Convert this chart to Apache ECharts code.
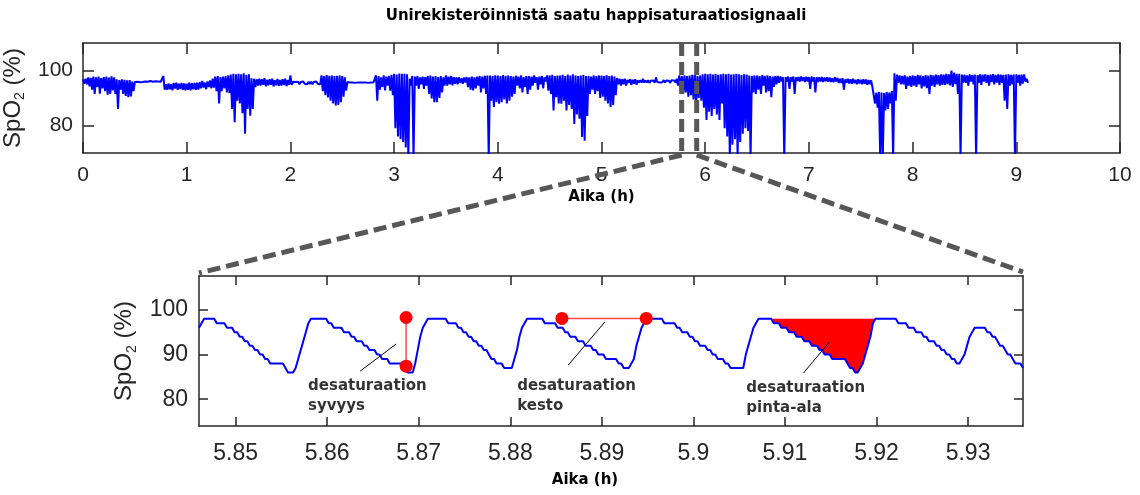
<!DOCTYPE html>
<html>
<head>
<meta charset="utf-8">
<script src="https://cdn.jsdelivr.net/npm/echarts@6/dist/echarts.min.js"></script>
<style>
  html, body { margin: 0; padding: 0; background: #ffffff; }
  #chart { width: 1140px; height: 495px; }
</style>
</head>
<body>
<div id="chart"></div>
<script>
// ---- Whole-night SpO2 (%): max / min envelope per 0.025 h bin, first bin at 0 h ----
const nightBinHours = 0.025;
const nightMax = [
  96.8,97.0,97.5,97.3, 97.8,97.5,97.8,97.2, 97.6,97.8,97.4,97.9, 97.5,96.8,96.5,96.8, 96.6,96.4,96.5,96.0,
  95.8,95.9,95.7,95.8, 96.0,95.9,96.2,95.9, 96.1,96.0,95.9,98.0, 95.0,95.3,95.0,95.5, 95.6,95.2,95.5,95.3,
  95.2,95.6,95.4,95.5, 95.6,95.8,96.2,95.6, 96.0,96.4,97.0,97.8, 98.0,97.6,97.8,98.0, 98.2,98.5,98.8,98.6,
  98.8,98.6,99.0,98.4, 98.6,97.2,97.0,96.8, 97.0,96.8,97.2,96.6, 96.8,97.0,96.5,96.9, 96.6,96.8,97.0,96.5,
  98.2,95.9,95.8,95.9, 95.8,96.0,95.7,95.9, 95.9,95.8,96.0,95.9, 98.2,98.0,98.3,98.1, 98.2,98.0,98.1,98.2,
  98.0,97.5,95.8,95.6, 95.6,95.5,95.6,95.6, 95.6,95.6,95.5,95.6, 95.6,98.2,98.0,97.5, 98.2,97.8,98.0,98.4,
  98.8,98.5,98.9,98.8, 98.8,98.6,97.0,98.0, 97.8,98.0,97.5,97.8, 97.6,98.0,98.2,97.8, 98.0,97.6,98.0,97.5,
  98.2,97.8,98.0,97.6, 97.5,97.6,97.2,97.5, 97.6,97.5,97.8,97.5, 97.8,98.0,97.8,98.1, 98.2,98.2,98.0,98.3,
  98.2,98.0,98.3,98.1, 98.2,98.0,97.8,98.1, 97.8,98.2,97.6,98.0, 98.0,97.8,98.2,97.6, 97.8,98.0,97.5,98.2,
  98.2,98.4,98.0,98.2, 98.2,98.4,98.0,98.5, 98.2,98.6,98.2,98.0, 98.2,98.4,98.0,98.0, 97.8,98.2,98.0,98.2,
  98.2,98.0,98.3,98.0, 98.2,97.8,97.2,97.0, 96.8,97.0,96.6,96.8, 96.6,96.8,96.4,96.5, 97.0,96.4,96.5,96.3,
  96.4,97.5,96.5,96.3, 96.5,96.4,96.3,96.5, 96.4,97.0,98.2,98.0, 98.2,98.0,98.2,98.4, 98.4,98.0,98.2,98.6,
  98.8,98.6,98.8,98.5, 98.8,98.4,98.6,98.8, 98.6,98.8,98.5,98.6, 98.8,98.6,98.4,98.6, 98.5,98.2,98.0,98.2,
  98.2,98.0,98.3,98.0, 98.2,98.0,97.8,98.0, 98.0,97.8,97.5,97.6, 97.8,97.6,97.8,97.5, 97.6,97.8,97.5,97.7,
  97.6,97.8,97.5,97.6, 97.5,97.6,97.4,97.5, 97.4,97.2,97.5,97.3, 97.0,97.2,96.8,97.0, 96.8,97.0,96.6,96.8,
  96.6,96.8,96.7,96.5, 96.4,93.5,92.0,92.2, 92.0,91.8,92.2,92.0, 92.5,99.0,98.5,98.2, 98.0,98.2,97.8,98.0,
  98.2,98.0,98.4,98.2, 98.0,98.3,98.1,98.4, 98.2,98.5,98.3,98.6, 98.5,98.8,98.6,100.0, 99.2,98.8,98.8,98.5,
  98.5,98.2,98.6,98.4, 98.5,98.3,98.6,98.5, 98.6,98.4,98.5,98.7, 98.4,98.6,98.5,98.4, 98.5,98.6,98.4,98.5,
  98.6,98.4,98.5,98.6, 97.0
];
const nightMin = [
  95.2,95.0,94.2,93.0, 91.5,94.0,91.6,93.5, 92.5,91.2,91.5,92.8, 91.5,86.0,93.0,91.5, 90.8,90.3,90.6,92.5,
  95.3,95.2,95.4,95.3, 95.4,95.3,95.5,95.5, 95.4,95.4,95.4,93.0, 93.0,93.2,92.8,93.4, 93.0,93.3,93.0,92.8,
  93.0,92.8,93.2,93.0, 93.1,93.5,93.8,93.2, 94.0,93.5,93.8,92.5, 88.0,92.5,93.5,92.0, 91.8,86.0,81.2,89.0,
  88.0,84.5,77.0,86.0, 83.6,86.0,94.0,94.5, 94.5,94.8,94.3,94.6, 94.8,94.2,94.6,94.4, 94.5,94.7,94.3,94.8,
  94.8,95.2,95.1,95.0, 95.1,95.2,95.0,95.1, 95.0,95.1,95.2,95.0, 92.5,91.0,90.2,89.0, 88.0,87.3,87.5,88.5,
  90.5,92.7,95.2,95.3, 95.2,95.3,95.3,95.2, 95.2,95.3,95.3,95.2, 95.1,89.0,93.0,94.0, 92.8,94.5,92.7,91.0,
  79.0,76.0,75.0,74.0, 72.0,68.0,94.5,68.0, 94.5,93.3,95.0,93.3, 94.5,91.5,89.8,88.5, 88.5,90.0,92.0,94.5,
  94.5,95.0,94.6,95.2, 95.0,95.5,95.2,95.6, 94.0,93.0,92.8,93.5, 94.5,92.0,93.5,91.5, 68.0,89.0,86.7,88.5,
  87.9,88.5,89.5,88.0, 89.0,90.5,91.5,94.5, 93.5,92.0,94.0,91.5, 93.0,94.5,95.5,93.0, 95.0,93.5,96.0,92.7,
  91.5,85.5,90.3,88.0, 87.9,89.0,85.5,87.5, 86.0,80.6,84.0,82.5, 75.8,74.5,83.5,91.5, 93.0,91.5,92.5,90.0,
  90.5,89.0,88.0,86.7, 87.5,91.0,95.0,94.5, 95.0,94.5,95.5,94.8, 95.2,94.8,95.6,95.6, 95.6,95.6,95.5,95.7,
  95.5,95.8,95.6,95.7, 95.6,95.7,95.5,95.8, 95.6,94.5,92.7,91.5, 92.0,90.5,91.0,89.5, 88.0,90.0,89.0,86.5,
  82.0,85.0,83.5,86.0, 84.0,82.0,88.0,79.0, 76.0,68.0,73.0,75.0, 68.0,74.0,77.0,79.0, 78.0,68.0,92.0,91.5,
  93.0,91.5,94.5,92.0, 92.5,90.3,94.0,95.0, 95.5,96.0,68.0,96.0, 93.3,96.0,91.5,96.2, 96.0,96.2,95.8,96.0,
  93.3,96.0,92.0,95.8, 96.0,95.8,96.1,95.9, 95.8,95.7,96.0,95.5, 95.5,93.0,95.6,95.3, 95.2,95.4,95.0,95.3,
  95.0,95.2,94.8,95.0, 94.0,88.0,86.5,68.0, 68.0,85.5,86.0,88.0, 68.0,89.0,95.5,95.0, 95.0,93.3,94.5,94.0,
  94.5,94.0,95.0,93.5, 94.2,93.6,91.5,94.5, 94.0,95.0,94.5,94.8, 94.8,95.0,94.6,94.0, 95.0,91.5,68.0,95.5,
  95.5,94.5,96.0,95.0, 68.0,95.5,94.8,96.0, 95.5,94.5,95.8,95.0, 95.6,94.8,95.5,89.0, 86.0,94.5,95.0,68.0,
  95.5,94.5,95.2,96.0, 95.5
];

// ---- Close-up: SpO2 (%) sampled at 1 Hz, first sample at 5.846 h ----
const detailStart = 5.846;
const detailSampleHours = 1 / 3600;
const detailSpo2 = [
  96,97,98,98,98,98,98,97,97,97,97,96,96,96,95,95,94,94,93,93,92,92,91,91,90,90,89,89,88,88,88,88,88,88,87,86,86,86,87,89,91,93,95,97,
  98,98,98,98,98,98,98,97,97,96,96,96,96,95,95,95,94,94,93,93,93,92,92,91,91,91,90,90,89,89,89,88,88,88,88,88,88,87,86,86,86,88,91,94,96,97,98,98,98,98,98,98,98,98,
  97,97,97,97,96,96,95,95,94,94,93,93,92,92,91,91,90,89,89,88,88,88,87,87,87,87,89,91,94,96,97,98,98,98,98,98,98,98,
  97,97,97,97,97,96,96,96,95,95,94,94,94,93,93,93,92,92,92,91,91,90,90,90,89,89,89,89,89,88,88,87,87,87,88,89,92,94,96,97,98,98,98,98,98,98,98,
  97,97,97,97,97,96,96,95,95,95,94,94,93,93,92,92,92,91,91,90,90,89,89,89,88,88,87,87,87,87,87,87,90,92,94,96,97,98,98,98,98,98,98,
  97,97,97,96,96,96,95,95,95,94,94,94,93,93,93,92,92,92,91,91,90,90,90,89,89,89,89,89,89,88,87,87,86,86,87,88,90,92,94,97,98,98,98,98,98,98,98,98,98,
  97,97,97,97,96,96,96,95,95,95,94,94,93,93,93,92,92,91,91,90,90,89,89,88,88,89,90,92,94,95,96,96,96,96,96,95,95,94,94,93,92,92,91,90,90,89,88,88,88,87
];

// ---- Axis ticks ----
const nightHourTicks = [0, 1, 2, 3, 4, 5, 6, 7, 8, 9, 10];
const nightSpo2Ticks = [80, 100];
const detailHourTicks = [5.85, 5.86, 5.87, 5.88, 5.89, 5.90, 5.91, 5.92, 5.93];
const detailSpo2Ticks = [80, 90, 100];

// ---- Desaturation measures drawn on the close-up ----
const depthMarker = [[5.86862, 98.3], [5.86862, 87.4]];      // syvyys: peak to nadir
const durationMarker = [[5.88564, 98.1], [5.89485, 98.1]];   // kesto: start to end
const areaSpan = [5.90862, 5.91988];                          // pinta-ala: time span
const areaLevel = 98;                                         // pinta-ala: baseline level
const noteTexts = ['desaturaation\nsyvyys', 'desaturaation\nkesto', 'desaturaation\npinta-ala'];
const noteAnchors = [[5.85791, 85.17], [5.88075, 85.17], [5.90578, 84.72]];
const noteLeaders = [
  [[5.86360, 86.29], [5.86753, 92.36]],
  [[5.88633, 87.64], [5.89033, 97.30]],
  [[5.91201, 85.84], [5.91485, 92.81]]
];

// Window of the night plot shown in the close-up
const zoomWindow = [5.773, 5.918];

// ---- Build series data ----
const nightLine = [];
nightMax.forEach((hi, k) => {
  const t0 = k * nightBinHours;
  nightLine.push([t0, hi], [t0 + nightBinHours / 2, nightMin[k]]);
});
const detailLine = detailSpo2.map((v, i) => [detailStart + i * detailSampleHours, v]);
const areaLine = [[areaSpan[0], areaLevel]]
  .concat(detailLine.filter(p => p[0] > areaSpan[0] && p[0] < areaSpan[1]))
  .concat([[areaSpan[1], areaLevel]]);

const ink = '#262626';
const tickFont = 'Liberation Sans';
const boldFont = 'DejaVu Sans';

function frameAxis(extra) {
  return Object.assign({
    type: 'value',
    splitLine: { show: false },
    axisLine: { show: true, onZero: false, lineStyle: { color: ink, width: 1.5 } },
  }, extra);
}

const yName = {
  color: ink,
  fontFamily: tickFont,
  rich: {
    a: { fontSize: 24, fontFamily: tickFont, color: ink, lineHeight: 26, verticalAlign: 'top' },
    b: { fontSize: 14, fontFamily: tickFont, color: ink, lineHeight: 14, padding: [20, 0, 0, 0], verticalAlign: 'bottom' }
  }
};
const xName = { fontFamily: boldFont, fontWeight: 'bold', fontSize: 15, color: '#000' };
const fmtHour = v => String(Number(v.toFixed(2)));

const chart = echarts.init(document.getElementById('chart'));

chart.setOption({
  animation: false,
  grid: [
    { left: 83, top: 43, width: 1037, height: 110, outerBoundsMode: 'none', containLabel: false },
    { left: 199, top: 276, width: 824, height: 150, outerBoundsMode: 'none', containLabel: false }
  ],
  xAxis: [
    frameAxis({
      gridIndex: 0, position: 'bottom', min: 0, max: 10, interval: 1,
      axisTick: { show: true, inside: true, length: 11, lineStyle: { color: ink, width: 1.5 } },
      axisLabel: { fontSize: 21, color: ink, fontFamily: tickFont, margin: 12 },
      name: 'Aika (h)', nameLocation: 'middle', nameGap: 37, nameTextStyle: xName
    }),
    frameAxis({
      gridIndex: 0, position: 'top', min: 0, max: 10, interval: 1,
      axisTick: { show: true, inside: true, length: 11, lineStyle: { color: ink, width: 1.5 } },
      axisLabel: { show: false }
    }),
    frameAxis({
      gridIndex: 1, position: 'bottom', min: 5.846, max: 5.936,
      axisTick: { show: true, inside: true, length: 9, customValues: detailHourTicks, lineStyle: { color: ink, width: 1.5 } },
      axisLabel: { fontSize: 23, color: ink, fontFamily: tickFont, margin: 16, customValues: detailHourTicks, formatter: fmtHour },
      name: 'Aika (h)', nameLocation: 'middle', nameGap: 47,
      nameTextStyle: Object.assign({ padding: [0, 52, 0, 0] }, xName)
    }),
    frameAxis({
      gridIndex: 1, position: 'top', min: 5.846, max: 5.936,
      axisTick: { show: true, inside: true, length: 9, customValues: detailHourTicks, lineStyle: { color: ink, width: 1.5 } },
      axisLabel: { show: false }
    })
  ],
  yAxis: [
    frameAxis({
      gridIndex: 0, position: 'left', min: 70, max: 110,
      axisTick: { show: true, inside: true, length: 11, customValues: nightSpo2Ticks, lineStyle: { color: ink, width: 1.5 } },
      axisLabel: { fontSize: 21, color: ink, fontFamily: tickFont, margin: 10, customValues: nightSpo2Ticks },
      name: '{a|SpO}{b|2}{a| (%)}', nameLocation: 'middle', nameRotate: 90, nameGap: 36, nameTextStyle: yName
    }),
    frameAxis({
      gridIndex: 0, position: 'right', min: 70, max: 110,
      axisTick: { show: true, inside: true, length: 11, customValues: nightSpo2Ticks, lineStyle: { color: ink, width: 1.5 } },
      axisLabel: { show: false }
    }),
    frameAxis({
      gridIndex: 1, position: 'left', min: 74, max: 107.6,
      axisTick: { show: true, inside: true, length: 9, customValues: detailSpo2Ticks, lineStyle: { color: ink, width: 1.5 } },
      axisLabel: { fontSize: 23, color: ink, fontFamily: tickFont, margin: 11, customValues: detailSpo2Ticks },
      name: '{a|SpO}{b|2}{a| (%)}', nameLocation: 'middle', nameRotate: 90, nameGap: 51, nameTextStyle: yName
    }),
    frameAxis({
      gridIndex: 1, position: 'right', min: 74, max: 107.6,
      axisTick: { show: true, inside: true, length: 9, customValues: detailSpo2Ticks, lineStyle: { color: ink, width: 1.5 } },
      axisLabel: { show: false }
    })
  ],
  series: [
    {
      name: 'SpO2 yö', type: 'line', xAxisIndex: 0, yAxisIndex: 0, data: nightLine,
      symbol: 'none', lineStyle: { color: '#0000ff', width: 2 }, silent: true, z: 2
    },
    {
      name: 'pinta-ala', type: 'line', xAxisIndex: 2, yAxisIndex: 2, data: areaLine,
      symbol: 'none', lineStyle: { width: 0 },
      areaStyle: { color: '#ff0000', opacity: 1, origin: areaLevel }, silent: true, z: 1
    },
    {
      name: 'SpO2', type: 'line', xAxisIndex: 2, yAxisIndex: 2, data: detailLine,
      symbol: 'none', lineStyle: { color: '#0000ff', width: 2 }, silent: true, z: 3
    },
    {
      name: 'syvyys', type: 'line', xAxisIndex: 2, yAxisIndex: 2, data: depthMarker,
      symbol: 'circle', symbolSize: 13, showSymbol: true,
      itemStyle: { color: '#ff0000' }, lineStyle: { color: '#ff4a4a', width: 1.5 }, z: 5
    },
    {
      name: 'kesto', type: 'line', xAxisIndex: 2, yAxisIndex: 2, data: durationMarker,
      symbol: 'circle', symbolSize: 13, showSymbol: true,
      itemStyle: { color: '#ff0000' }, lineStyle: { color: '#ff4a4a', width: 1.5 }, z: 5
    }
  ].concat(noteLeaders.map((seg, i) => ({
    name: 'viiva' + i, type: 'line', xAxisIndex: 2, yAxisIndex: 2, data: seg,
    symbol: 'none', lineStyle: { color: '#000000', width: 1 }, silent: true, z: 6
  }))).concat([{
    name: 'selitteet', type: 'scatter', xAxisIndex: 2, yAxisIndex: 2, data: noteAnchors,
    symbolSize: 0, silent: true, z: 7,
    label: {
      show: true, position: [0, 0], align: 'left', verticalAlign: 'top',
      formatter: p => noteTexts[p.dataIndex],
      fontFamily: boldFont, fontWeight: 'bold', fontSize: 15, lineHeight: 20, color: '#000'
    }
  }])
});

// Title, zoom-window outline and the dashed connectors to the close-up
const winL = chart.convertToPixel({ gridIndex: 0 }, [zoomWindow[0], 110]);
const winLb = chart.convertToPixel({ gridIndex: 0 }, [zoomWindow[0], 70]);
const winR = chart.convertToPixel({ gridIndex: 0 }, [zoomWindow[1], 110]);
const detTL = chart.convertToPixel({ gridIndex: 1 }, [5.846, 107.6]);
const detTR = chart.convertToPixel({ gridIndex: 1 }, [5.936, 107.6]);
const dash = { stroke: '#575757', lineWidth: 5, lineDash: [13, 6] };
const below = winLb[1] + 2;

chart.setOption({
  graphic: [
    {
      type: 'text', x: 596, y: 16, z: 100,
      style: {
        text: 'Unirekisteröinnistä saatu happisaturaatiosignaali',
        font: 'bold 15px "DejaVu Sans"', fill: '#000', align: 'center', verticalAlign: 'middle'
      }
    },
    { type: 'line', z: 100, shape: { x1: winL[0], y1: winL[1], x2: winL[0], y2: below }, style: dash },
    { type: 'line', z: 100, shape: { x1: winR[0], y1: winR[1], x2: winR[0], y2: below }, style: dash },
    { type: 'line', z: 100, shape: { x1: winL[0], y1: below, x2: detTL[0], y2: detTL[1] - 3 }, style: dash },
    { type: 'line', z: 100, shape: { x1: winR[0], y1: below, x2: detTR[0], y2: detTR[1] - 4 }, style: dash }
  ]
});
</script>
</body>
</html>
